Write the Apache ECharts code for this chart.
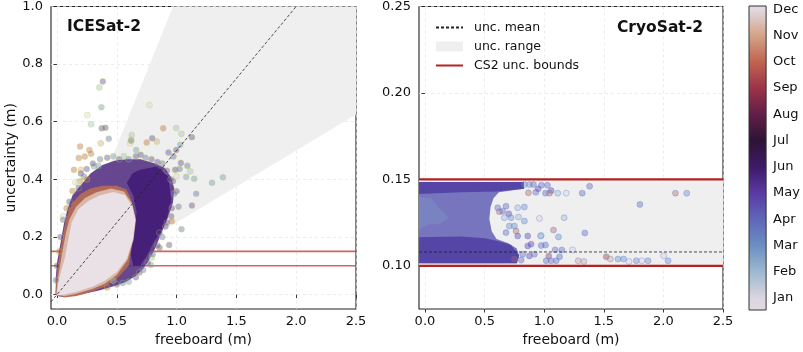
<!DOCTYPE html>
<html><head><meta charset="utf-8">
<script src="https://cdn.jsdelivr.net/npm/echarts@6/dist/echarts.min.js"></script>
<style>html,body{margin:0;padding:0;background:#fff}#c{width:803px;height:352px}</style>
</head><body><div id="c"></div>
<script>
const FONT = '"DejaVu Sans", sans-serif';
const months = ['Jan','Feb','Mar','Apr','May','Jun','Jul','Aug','Sep','Oct','Nov','Dec'];
const monthColors = ['#dcd5df','#9db9cf','#6b8fc2','#5f67b9','#5b3aa3','#3e1a68','#2d1434','#621e48','#9c3449','#c1654f','#d3a489','#e2dae1'];
const xTicks = [0, 0.5, 1.0, 1.5, 2.0, 2.5];
const yTicksL = [0, 0.2, 0.4, 0.6, 0.8, 1.0];
const yTicksR = [0.10, 0.15, 0.20, 0.25];
const cbTicks = [0,1,2,3,4,5,6,7,8,9,10,11];

// shared values
const cs2Bounds = [0.10, 0.15];
const boundX = [-0.05, 2.5];

// ---- ICESat-2 panel ----
const wedgePoly = [[0,0],[0.97,1.0],[2.5,1.0],[2.5,0.625]];
const meanLX = [-0.05, 2.0];
const meanLY = [-0.025, 1.0];
const envelopePoly = [[0.0,-0.005],[-0.012,0.05],[0.0,0.11],[0.03,0.18],[0.06,0.25],[0.09,0.3],[0.13,0.345],[0.2,0.38],[0.28,0.42],[0.38,0.45],[0.48,0.465],[0.58,0.47],[0.7,0.47],[0.82,0.455],[0.9,0.44],[0.95,0.41],[0.98,0.37],[0.97,0.32],[0.93,0.27],[0.87,0.21],[0.82,0.16],[0.77,0.12],[0.72,0.09],[0.66,0.065],[0.58,0.045],[0.48,0.03],[0.36,0.015],[0.2,0.0],[0.05,-0.008]];
const densePoly = [[0.695,0.433],[0.835,0.445],[0.93,0.41],[0.955,0.33],[0.918,0.261],[0.863,0.215],[0.807,0.181],[0.751,0.134],[0.695,0.1],[0.639,0.1],[0.611,0.146],[0.639,0.215],[0.667,0.284],[0.639,0.341],[0.584,0.388],[0.63,0.42]];
const rimPoly = [[-0.015,0.0],[-0.008,0.05],[0.01,0.11],[0.035,0.17],[0.06,0.23],[0.09,0.28],[0.13,0.32],[0.2,0.35],[0.28,0.368],[0.38,0.378],[0.5,0.378],[0.58,0.365],[0.62,0.33],[0.65,0.26],[0.62,0.15],[0.6,0.1],[0.5,0.055],[0.4,0.028],[0.3,0.012],[0.165,-0.005],[0.06,-0.01]];
const tanPoly = [[-0.005,0.0],[0.004,0.046],[0.025,0.1],[0.05,0.16],[0.075,0.215],[0.105,0.262],[0.16,0.305],[0.235,0.335],[0.33,0.355],[0.45,0.368],[0.56,0.358],[0.63,0.315],[0.66,0.26],[0.64,0.19],[0.59,0.12],[0.5,0.068],[0.4,0.038],[0.3,0.02],[0.165,0.003],[0.06,-0.006]];
const corePoly = [[0.0,-0.003],[0.011,0.043],[0.04,0.09],[0.067,0.13],[0.095,0.192],[0.123,0.25],[0.178,0.296],[0.262,0.325],[0.36,0.345],[0.472,0.356],[0.57,0.345],[0.63,0.305],[0.655,0.26],[0.635,0.192],[0.585,0.125],[0.5,0.078],[0.4,0.048],[0.3,0.028],[0.165,0.01],[0.06,0.0]];
const ptsL = [[0.383,0.74,5],[0.354,0.719,2],[0.371,0.65,3],[0.254,0.623,1],[0.773,0.658,1],[0.285,0.591,2],[0.374,0.577,5],[0.405,0.579,5],[0.888,0.577,10],[0.997,0.578,2],[1.04,0.558,2],[1.128,0.546,5],[0.433,0.541,4],[0.193,0.514,10],[0.271,0.502,10],[0.366,0.525,11],[0.182,0.474,10],[0.232,0.479,10],[0.285,0.489,10],[0.142,0.433,10],[0.201,0.433,11],[0.193,0.393,10],[0.153,0.39,12],[0.103,0.322,5],[0.053,0.272,1],[0.835,0.531,11],[0.662,0.502,3],[0.611,0.525,1],[0.796,0.543,5],[0.625,0.554,2],[0.62,0.537,11],[0.75,0.528,10],[0.62,0.534,3],[1.03,0.52,3],[0.997,0.502,5],[0.932,0.493,5],[0.974,0.479,4],[1.036,0.457,5],[1.09,0.447,4],[0.988,0.433,5],[1.025,0.436,4],[1.114,0.428,2],[1.08,0.408,3],[1.147,0.402,3],[1.0,0.41,1],[0.969,0.393,5],[1.0,0.359,5],[1.164,0.35,4],[1.128,0.309,5],[1.016,0.305,4],[0.955,0.272,5],[0.96,0.255,10],[0.907,0.236,5],[1.041,0.227,4],[0.857,0.215,5],[1.296,0.388,3],[1.387,0.407,3],[0.938,0.172,5],[0.857,0.163,5],[0.793,0.129,2],[0.785,0.103,3],[0.689,0.077,5],[0.472,0.048,2],[0.249,0.436,5],[0.31,0.445,3],[0.346,0.447,3],[0.226,0.41,4],[0.179,0.388,12],
[0.3,0.455,5],[0.36,0.47,4],[0.42,0.475,5],[0.47,0.48,3],[0.52,0.47,5],[0.56,0.48,2],[0.6,0.47,4],[0.66,0.48,5],[0.7,0.485,5],[0.74,0.475,4],[0.79,0.47,5],[0.84,0.46,5],[0.88,0.455,4],[0.92,0.43,5],[0.95,0.4,5],[0.98,0.35,4],[0.96,0.3,5],[0.92,0.25,5],[0.88,0.2,4],[0.84,0.17,5],[0.8,0.14,4],[0.76,0.11,5],[0.72,0.085,4],[0.66,0.06,5],[0.6,0.045,3],[0.55,0.04,4],[0.5,0.035,5],[0.42,0.025,10],[0.08,0.3,10],[0.05,0.26,4],[0.03,0.2,5],[0.02,0.15,10],[0.0,0.1,5],[-0.01,0.05,4],[0.13,0.36,10],[0.18,0.37,5],[0.25,0.4,10],[0.2,0.42,5]];

// ---- CryoSat-2 panel ----
const meanR = 0.108;
const blobPoly = [[-0.05,0.1485],[0.83,0.1485],[0.83,0.1445],[0.62,0.1425],[0.575,0.139],[0.55,0.134],[0.54,0.127],[0.56,0.12],[0.6,0.1155],[0.7,0.113],[0.77,0.11],[0.79,0.106],[0.77,0.1015],[-0.05,0.1015]];
const blobTop = [[-0.05,0.1485],[0.83,0.1485],[0.83,0.1445],[0.6,0.143],[0.3,0.1425],[-0.05,0.1415]];
const blobBottom = [[-0.05,0.1165],[0.3,0.117],[0.5,0.116],[0.6,0.1145],[0.72,0.112],[0.79,0.106],[0.77,0.1015],[-0.05,0.1015]];
const blobTeal = [[-0.05,0.14],[0.05,0.139],[0.12,0.133],[0.2,0.128],[0.12,0.124],[0.03,0.124],[-0.05,0.121]];
const ptsR = [[0.977,0.1466,4],[1.027,0.1466,4],[1.059,0.1435,5],[1.011,0.142,4],[1.045,0.142,10],[1.114,0.142,2],[1.185,0.142,1],[1.319,0.142,4],[1.381,0.146,4],[2.101,0.142,10],[2.196,0.142,3],[1.803,0.1355,4],[1.168,0.1278,2],[1.078,0.1207,10],[1.12,0.1167,3],[1.341,0.119,4],[0.975,0.1175,2],[0.975,0.1117,4],[1.011,0.112,4],[1.092,0.1092,4],[1.148,0.1092,4],[1.238,0.1092,1],[1.039,0.1056,9],[1.017,0.1029,4],[1.059,0.1029,4],[1.101,0.1029,4],[1.129,0.1052,4],[1.286,0.1029,11],[1.333,0.1025,11],[1.521,0.1052,9],[1.555,0.1039,11],[1.619,0.1039,3],[1.666,0.1039,3],[1.711,0.1025,1],[1.773,0.1029,3],[1.82,0.1029,1],[1.871,0.1029,3],[2.003,0.1058,1],[2.039,0.1029,3],
[0.834,0.147,3],[0.876,0.147,3],[0.868,0.1422,10],[0.68,0.1345,4],[0.652,0.1316,4],[0.61,0.1336,4],[0.778,0.1336,2],[0.834,0.134,3],[0.624,0.1313,10],[0.703,0.1301,5],[0.666,0.1278,2],[0.722,0.1278,3],[0.784,0.1282,2],[0.96,0.1274,1],[0.708,0.123,3],[0.75,0.123,3],[0.834,0.1259,3],[0.764,0.1201,10],[0.68,0.1192,4],[0.778,0.1172,5],[0.862,0.1172,5],[0.969,0.1172,2],[0.89,0.1125,5],[0.862,0.1115,5],[0.82,0.1067,4],[0.876,0.1057,5],[0.918,0.1067,4],[0.75,0.1039,10],[0.807,0.1033,4],[0.91,0.147,4],[0.93,0.1425,4],[0.95,0.1445,5]];

// ---- colourbar ----
const cbMin = -0.46, cbMax = 11.13;

// ---------- build option ----------
function poly(name, pts, gi, color, z) {
  return {type:'custom', name: name, xAxisIndex: gi, yAxisIndex: gi, z: z, silent: true,
    itemStyle: {color: color}, data: [0],
    renderItem: function (params, api) {
      return {type:'polygon', shape:{points: pts.map(function(p){return api.coord(p);})}, style:{fill: color}};
    }};
}
function hline(name, y, gi, color, width, type, opacity, z) {
  return {type:'line', name: name, xAxisIndex: gi, yAxisIndex: gi, z: z, silent: true, symbol:'none',
    lineStyle:{color: color, width: width, type: type, opacity: opacity}, itemStyle:{color: color},
    data: boundX.map(function(x){return [x, y];})};
}
function scatter(pts, gi) {
  return {type:'scatter', xAxisIndex: gi, yAxisIndex: gi, z: 5, silent: true, symbolSize: 6,
    itemStyle: {opacity: 0.4, borderWidth: 0.8,
      color: function(p){return monthColors[p.data[2]-1];},
      borderColor: function(p){return monthColors[p.data[2]-1];}},
    data: pts};
}
function xAxis(gi) {
  return {gridIndex: gi, type:'value', min:-0.05, max:2.5, name:'freeboard (m)', nameLocation:'middle', nameGap:24,
    nameTextStyle:{fontSize:14, fontFamily:FONT, color:'#111'},
    axisLine:{show:false},
    axisTick:{customValues:xTicks, length:3.5, lineStyle:{color:'#222', width:0.9}},
    axisLabel:{customValues:xTicks, formatter:function(v){return v.toFixed(1);}, fontSize:13, fontFamily:FONT, color:'#111', margin:6},
    splitLine:{show:true, lineStyle:{color:'#e4e4e4', type:[3,3], width:0.7}}};
}
const gridStyle = {show:true, borderColor:'#222', borderWidth:1.1, backgroundColor:'transparent'};

const cbStops = [{offset:0, color:'#e2d9e2'}].concat(cbTicks.map(function(m){
  return {offset:(m - cbMin)/(cbMax - cbMin), color: monthColors[m]};
})).concat([{offset:1, color:'#e2d9e2'}]);

const option = {
  animation: false,
  grid: [
    Object.assign({left:51, top:6, width:305, height:304}, gridStyle),
    Object.assign({left:419, top:6, width:304, height:304}, gridStyle),
    {left:749, top:6, width:18, height:304, show:false}
  ],
  xAxis: [xAxis(0), xAxis(1), {gridIndex:2, type:'value', min:0, max:1, show:false}],
  yAxis: [
    {gridIndex:0, type:'value', min:-0.05, max:1.0, name:'uncertainty (m)', nameLocation:'middle', nameGap:33,
      nameTextStyle:{fontSize:14, fontFamily:FONT, color:'#111'}, axisLine:{show:false},
      axisTick:{customValues:yTicksL, length:3.5, lineStyle:{color:'#222', width:0.9}},
      axisLabel:{customValues:yTicksL, formatter:function(v){return v.toFixed(1);}, fontSize:13, fontFamily:FONT, color:'#111', margin:8},
      splitLine:{show:true, lineStyle:{color:'#e4e4e4', type:[3,3], width:0.7}}},
    {gridIndex:1, type:'value', min:0.075, max:0.25, axisLine:{show:false},
      axisTick:{customValues:yTicksR, length:3.5, lineStyle:{color:'#222', width:0.9}},
      axisLabel:{customValues:yTicksR, formatter:function(v){return v.toFixed(2);}, fontSize:13, fontFamily:FONT, color:'#111', margin:8},
      splitLine:{show:true, lineStyle:{color:'#e4e4e4', type:[3,3], width:0.7}}},
    {gridIndex:2, type:'value', min:cbMin, max:cbMax, position:'right', axisLine:{show:false},
      axisTick:{customValues:cbTicks, length:3.5, lineStyle:{color:'#222', width:0.9}},
      axisLabel:{customValues:cbTicks, formatter:function(v){return months[Math.round(v)];}, fontSize:13, fontFamily:FONT, color:'#111', margin:7},
      splitLine:{show:false}}
  ],
  legend: {left:430, top:16, orient:'vertical', itemWidth:27, itemHeight:10, itemGap:6, selectedMode:false,
    data:[{name:'unc. mean', itemStyle:{opacity:0}},{name:'unc. range', icon:'rect'},{name:'CS2 unc. bounds', itemStyle:{opacity:0}}],
    textStyle:{fontSize:12.5, fontFamily:FONT, color:'#111', padding:[0,0,0,6]}},
  graphic: [
    {type:'text', x:67, y:27, z:100, style:{text:'ICESat-2', font:'bold 15.5px "DejaVu Sans"', fill:'#111', align:'left', verticalAlign:'middle'}},
    {type:'text', x:703, y:28, z:100, style:{text:'CryoSat-2', font:'bold 15.5px "DejaVu Sans"', fill:'#111', align:'right', verticalAlign:'middle'}}
  ],
  series: [
    // right panel (first so legend takes its styles)
    {type:'line', name:'unc. mean', xAxisIndex:1, yAxisIndex:1, z:7, silent:true, symbol:'none',
      lineStyle:{color:'#222', width:0.8, type:[3,2]}, itemStyle:{color:'#222'},
      data: boundX.map(function(x){return [x, meanR];})},
    poly('unc. range', [[boundX[0],cs2Bounds[0]],[boundX[1],cs2Bounds[0]],[boundX[1],cs2Bounds[1]],[boundX[0],cs2Bounds[1]]], 1, '#efefef', 1),
    hline('CS2 unc. bounds', cs2Bounds[0], 1, '#b22222', 2.2, 'solid', 1, 8),
    hline('CS2 unc. bounds', cs2Bounds[1], 1, '#b22222', 2.2, 'solid', 1, 8),
    poly('', blobPoly, 1, 'rgba(104,100,184,0.88)', 3),
    poly('', blobTeal, 1, 'rgba(125,165,200,0.3)', 3),
    poly('', blobTop, 1, 'rgba(82,66,165,0.95)', 3),
    poly('', blobBottom, 1, 'rgba(82,66,165,0.95)', 3),
    scatter(ptsR, 1),
    // left panel
    poly('unc. range', wedgePoly, 0, '#efefef', 1),
    hline('CS2 unc. bounds', cs2Bounds[0], 0, '#c03030', 1.6, 'solid', 0.75, 2),
    hline('CS2 unc. bounds', cs2Bounds[1], 0, '#c03030', 1.6, 'solid', 0.75, 2),
    poly('', envelopePoly, 0, 'rgba(86,52,132,0.9)', 3),
    poly('', densePoly, 0, 'rgba(68,30,120,0.95)', 3),
    poly('', rimPoly, 0, 'rgba(180,108,84,0.95)', 3),
    poly('', tanPoly, 0, 'rgba(216,182,168,1)', 3),
    poly('', corePoly, 0, '#eae1e6', 3),
    scatter(ptsL, 0),
    {type:'line', name:'unc. mean', xAxisIndex:0, yAxisIndex:0, z:7, silent:true, symbol:'none',
      lineStyle:{color:'#222', width:0.8, type:[3,2]}, itemStyle:{color:'#222'},
      data: meanLX.map(function(x,i){return [x, meanLY[i]];})},
    // colourbar
    {type:'custom', xAxisIndex:2, yAxisIndex:2, silent:true, data:[0],
      renderItem: function(params, api) {
        const tl = api.coord([0, cbMax]), br = api.coord([1, cbMin]);
        return {type:'rect', shape:{x:tl[0], y:tl[1], width:br[0]-tl[0], height:br[1]-tl[1]},
          style:{fill: new echarts.graphic.LinearGradient(0,1,0,0, cbStops), stroke:'#333', lineWidth:1}};
      }}
  ]
};
const chart = echarts.init(document.getElementById('c'), null, {renderer:'canvas'});
chart.setOption(option);
</script></body></html>
